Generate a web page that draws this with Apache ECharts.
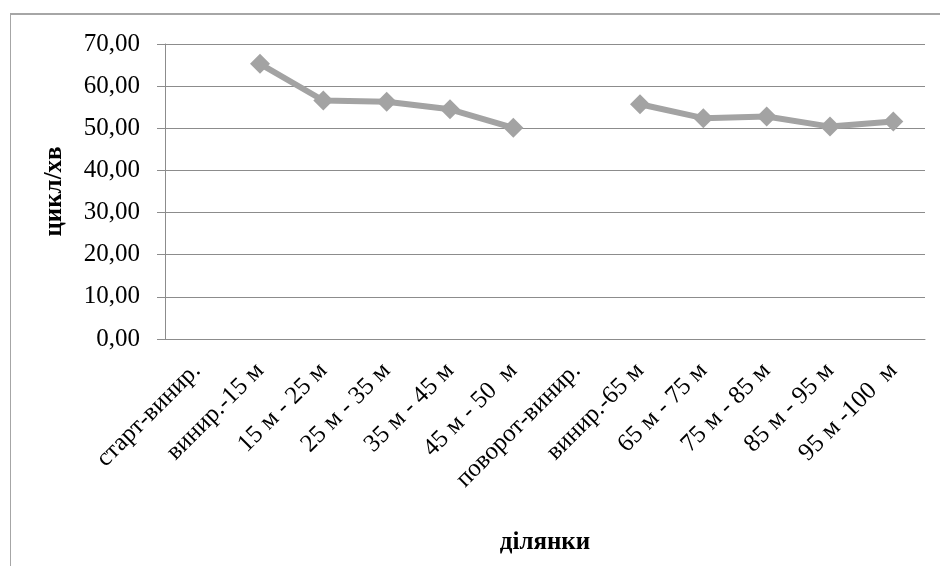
<!DOCTYPE html>
<html><head><meta charset="utf-8">
<script src="https://cdn.jsdelivr.net/npm/echarts@6/dist/echarts.min.js"></script>
<style>html,body{margin:0;padding:0;background:#fff}#c{width:940px;height:566px}</style>
</head><body><div id="c"></div>
<script>
const categories = ['старт-винир.', 'винир.-15 м', '15 м - 25 м', '25 м - 35 м', '35 м - 45 м', '45 м - 50  м', 'поворот-винир.', 'винир.-65 м', '65 м - 75 м', '75 м - 85 м', '85 м - 95 м', '95 м -100  м'];
const values = [null, 65.3, 56.6, 56.3, 54.5, 50.1, null, 55.7, 52.4, 52.8, 50.4, 51.6];
const yMin = 0, yMax = 70, yStep = 10;

const chart = echarts.init(document.getElementById('c'), null, {renderer: 'canvas'});
chart.setOption({
  animation: false,
  backgroundColor: '#fff',
  grid: {left: 165, right: 15, top: 44, bottom: 227, containLabel: false},
  graphic: [
    {type: 'line', shape: {x1: 10, y1: 14, x2: 940, y2: 14}, style: {stroke: '#a6a6a6', lineWidth: 2}},
    {type: 'line', shape: {x1: 10.5, y1: 14, x2: 10.5, y2: 566}, style: {stroke: '#a6a6a6', lineWidth: 1}}
  ],
  xAxis: {
    type: 'category', data: categories, boundaryGap: true,
    name: 'ділянки', nameLocation: 'middle', nameGap: 191,
    nameTextStyle: {fontFamily: 'Liberation Serif', fontWeight: 'bold', fontSize: 25, color: '#000'},
    axisLine: {lineStyle: {color: '#8c8c8c', width: 1}},
    axisTick: {show: false},
    axisLabel: {rotate: 45, interval: 0, margin: 28, fontFamily: 'Liberation Serif', fontSize: 25, color: '#000'},
    splitLine: {show: false}
  },
  yAxis: {
    type: 'value', min: yMin, max: yMax, interval: yStep,
    name: 'цикл/хв', nameLocation: 'middle', nameGap: 98, nameRotate: 90,
    nameTextStyle: {fontFamily: 'Liberation Serif', fontWeight: 'bold', fontSize: 25, color: '#000'},
    axisLine: {show: true, lineStyle: {color: '#8c8c8c', width: 1}},
    axisTick: {show: true, length: 8, lineStyle: {color: '#8c8c8c'}},
    axisLabel: {margin: 25, fontFamily: 'Liberation Serif', fontSize: 25, color: '#000',
      formatter: v => v.toFixed(2).replace('.', ',')},
    splitLine: {show: true, lineStyle: {color: '#8c8c8c', width: 1}}
  },
  series: [{
    type: 'line', data: values, connectNulls: false,
    symbol: 'diamond', symbolSize: 20,
    lineStyle: {color: '#a3a3a3', width: 6},
    itemStyle: {color: '#a3a3a3'}
  }]
});
</script></body></html>
